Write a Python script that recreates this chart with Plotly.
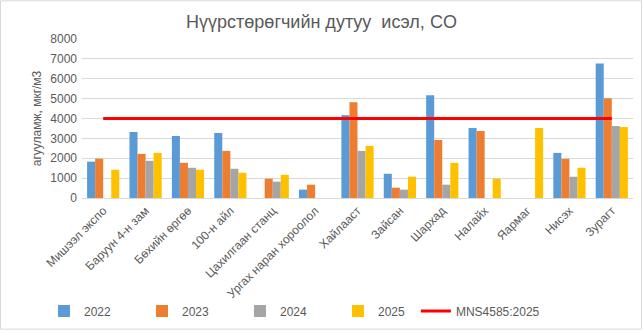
import plotly.graph_objects as go

# Monitoring stations (x categories)
stations = [
    "Мишээл экспо", "Баруун 4-н зам", "Бөхийн өргөө", "100-н айл",
    "Цахилгаан станц", "Ургах наран хороолол", "Хайлааст", "Зайсан",
    "Шархад", "Налайх", "Яармаг", "Нисэх", "Зурагт",
]

# CO concentration, mkg/m3 (None = no measurement)
co_2022 = [1830, 3320, 3120, 3270, None, 420, 4170, 1220, 5170, 3520, None, 2270, 6770]
co_2023 = [1980, 2220, 1770, 2370, 970, 670, 4820, 520, 2920, 3370, None, 1970, 5020]
co_2024 = [None, 1870, 1520, 1470, 820, None, 2370, 420, 670, None, None, 1070, 3620]
co_2025 = [1420, 2270, 1420, 1270, 1170, None, 2620, 1070, 1770, 970, 3520, 1520, 3570]

# National standard limit
standard_name = "MNS4585:2025"
standard_value = 4000

series = [
    ("2022", co_2022, "#5B9BD5"),
    ("2023", co_2023, "#ED7D31"),
    ("2024", co_2024, "#A5A5A5"),
    ("2025", co_2025, "#FFC000"),
]

font_family = "Liberation Sans, Arial, sans-serif"
text_color = "#595959"
grid_color = "#D9D9D9"

fig = go.Figure()
for name, vals, color in series:
    fig.add_trace(go.Bar(x=stations, y=vals, name=name, marker_color=color,
                         marker_line_width=0, legend="legend"))

fig.add_trace(go.Scatter(
    x=stations, y=[standard_value] * len(stations), name=standard_name,
    mode="lines", line=dict(color="#FF0000", width=3), legend="legend2",
))

legend_common = dict(orientation="h", xanchor="left", y=-0.70, yanchor="middle",
                     font=dict(size=12, color=text_color), bgcolor="rgba(0,0,0,0)")

fig.update_layout(
    width=643, height=333,
    margin=dict(l=82, r=10, t=39, b=134),
    paper_bgcolor="white", plot_bgcolor="white",
    font=dict(family=font_family, size=12, color=text_color),
    title=dict(text="Нүүрстөрөгчийн дутуу  исэл, CO", x=0.5, xanchor="center",
               y=1 - 22 / 333, yanchor="middle",
               font=dict(size=18, color=text_color, family=font_family)),
    barmode="group", bargap=0.24, bargroupgap=0,
    legend=dict(x=-0.069, entrywidth=53, entrywidthmode="pixels",
                traceorder="normal", **legend_common),
    legend2=dict(x=0.606, **legend_common),
    showlegend=True,
    shapes=[dict(type="rect", xref="paper", yref="paper",
                 x0=-81.5 / 551, x1=(641.5 - 82) / 551,
                 y0=(199.3 - 331.5) / 160.3, y1=(199.3 - 0.5) / 160.3,
                 line=dict(color=grid_color, width=1), layer="below")],
)

fig.update_xaxes(
    tickangle=-45, showgrid=False, showline=True, linecolor=grid_color, linewidth=1,
    ticks="", tickfont=dict(size=12, color=text_color), fixedrange=True,
)
fig.update_yaxes(
    range=[0, 8000], dtick=1000, showgrid=True, gridcolor=grid_color, gridwidth=1,
    zeroline=False, showline=False, ticks="", ticklabelstandoff=4,
    tickfont=dict(size=12, color=text_color),
    title=dict(text="агууламж, мкг/м3", font=dict(size=12, color=text_color), standoff=6),
)

fig.write_html("out.html")
